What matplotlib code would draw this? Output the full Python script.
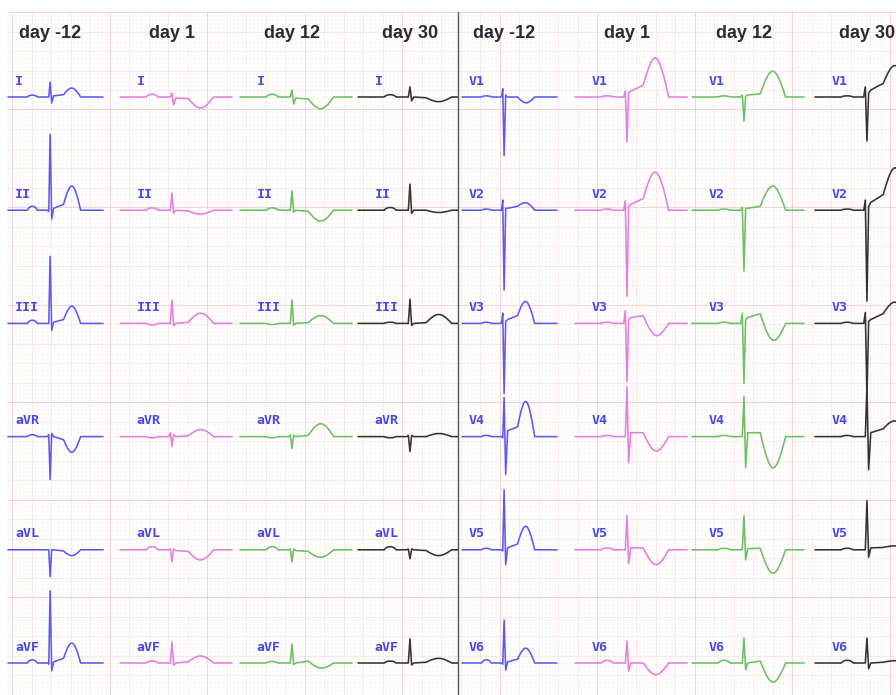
import matplotlib
matplotlib.use("Agg")
import matplotlib.pyplot as plt
from matplotlib.path import Path
from matplotlib.patches import PathPatch, Rectangle

# column titles and trace colours
days = ["day -12", "day 1", "day 12", "day 30"]
day_colors = ["#5b5bef", "#e27fdf", "#6cc063", "#333333"]

limb_leads = ["I", "II", "III", "aVR", "aVL", "aVF"]
chest_leads = ["V1", "V2", "V3", "V4", "V5", "V6"]

# landmark times in ms from trace start:
# p_on, p_off, q_on, q, r, s, j, st, t_off, end
times_pre = [200, 300, 405, 418, 432, 448, 468, 570, 745, 975]   # day -12
times_post = [270, 390, 500, 516, 533, 550, 572, 700, 960, 1150]  # day 1, 12, 30

# wave amplitudes in mV, one row per day (-12, 1, 12, 30): P, Q, R, S, J, ST, T
amp_I = [[0.05, 0.0, 0.38, -0.15, 0.03, 0.06, 0.23],
         [0.07, 0.0, 0.10, -0.20, -0.03, -0.04, -0.28],
         [0.07, 0.0, 0.18, -0.18, -0.03, -0.05, -0.30],
         [0.06, 0.0, 0.26, -0.10, 0.0, -0.02, -0.12]]
amp_II = [[0.10, -0.03, 1.95, -0.23, 0.05, 0.15, 0.62],
          [0.06, 0.0, 0.44, -0.08, 0.0, -0.02, -0.10],
          [0.06, 0.0, 0.50, -0.05, 0.0, -0.03, -0.28],
          [0.07, 0.0, 0.67, -0.08, 0.0, 0.0, -0.06]]
amp_III = [[0.08, 0.0, 1.72, -0.18, 0.03, 0.10, 0.44],
           [-0.04, 0.0, 0.60, -0.06, 0.0, 0.03, 0.26],
           [-0.03, 0.0, 0.60, -0.05, 0.0, 0.02, 0.20],
           [0.03, 0.0, 0.62, -0.05, 0.0, 0.02, 0.23]]
amp_aVR = [[0.05, 0.05, -1.10, 0.08, 0.0, -0.08, -0.40],
           [-0.03, 0.10, -0.25, 0.05, 0.0, 0.02, 0.18],
           [-0.03, 0.05, -0.30, 0.03, 0.0, 0.03, 0.33],
           [-0.03, 0.03, -0.38, 0.03, 0.0, 0.0, 0.08]]
amp_aVL = [[0.0, 0.0, -0.69, 0.0, 0.0, -0.03, -0.15],
           [0.08, 0.02, -0.31, 0.02, -0.02, -0.04, -0.26],
           [0.08, 0.02, -0.31, 0.02, -0.02, -0.04, -0.19],
           [0.08, 0.02, -0.23, 0.02, 0.0, -0.02, -0.15]]
amp_aVF = [[0.08, -0.03, 1.85, -0.20, 0.03, 0.12, 0.51],
           [0.05, 0.0, 0.54, -0.06, 0.0, 0.03, 0.18],
           [0.04, 0.0, 0.49, -0.04, 0.0, 0.05, -0.13],
           [0.05, 0.0, 0.62, -0.05, 0.0, 0.02, 0.12]]
amp_V1 = [[0.03, 0.21, -1.50, 0.05, 0.0, 0.0, -0.15],
          [0.03, 0.15, -1.15, 0.10, 0.15, 0.30, 1.00],
          [0.03, 0.05, -0.62, 0.02, 0.05, 0.08, 0.66],
          [0.03, 0.26, -1.13, 0.10, 0.18, 0.35, 0.80]]
amp_V2 = [[0.03, 0.26, -2.05, 0.05, 0.05, 0.10, 0.19],
          [0.03, 0.24, -2.20, 0.10, 0.15, 0.30, 0.97],
          [0.03, 0.08, -1.56, 0.05, 0.05, 0.10, 0.62],
          [0.03, 0.26, -2.33, 0.10, 0.20, 0.40, 1.08]]
amp_V3 = [[0.03, 0.26, -1.80, 0.05, 0.10, 0.20, 0.56],
          [0.03, 0.33, -1.50, 0.10, 0.15, 0.20, -0.31],
          [0.03, 0.26, -1.54, 0.10, 0.15, 0.25, -0.43],
          [0.03, 0.28, -1.90, 0.05, 0.10, 0.25, 0.54]]
amp_V4 = [[0.03, -0.03, 1.00, -0.97, 0.15, 0.25, 0.90],
          [0.03, 0.0, 1.28, -0.67, 0.10, 0.10, -0.37],
          [0.03, 0.0, 1.03, -0.80, 0.10, 0.10, -0.80],
          [0.03, 0.0, 1.30, -0.85, 0.10, 0.20, 0.40]]
amp_V5 = [[0.04, -0.03, 1.54, -0.38, 0.05, 0.15, 0.60],
          [0.05, 0.0, 0.88, -0.36, 0.05, 0.05, -0.38],
          [0.04, 0.0, 0.88, -0.26, 0.03, 0.04, -0.60],
          [0.04, 0.0, 1.26, -0.19, 0.05, 0.06, 0.10]]
amp_V6 = [[0.08, -0.03, 1.10, -0.18, 0.03, 0.10, 0.38],
          [0.07, 0.0, 0.56, -0.21, 0.0, 0.0, -0.30],
          [0.07, 0.0, 0.64, -0.17, 0.0, 0.05, -0.49],
          [0.07, 0.0, 0.64, -0.15, 0.0, 0.02, 0.06]]

limb_amps = [amp_I, amp_II, amp_III, amp_aVR, amp_aVL, amp_aVF]
chest_amps = [amp_V1, amp_V2, amp_V3, amp_V4, amp_V5, amp_V6]

# paper scale: pixels per ms and per mV
PX_MS = 0.0975
PX_MV = 39.0
W, H = 896, 695
W_MS = W / PX_MS
H_MV = H / PX_MV

# layout (pixels)
col_x_px = [8, 120, 240, 358, 462, 575, 692, 815]
row_y_px = [97 + 113.2 * k for k in range(6)]
divider_px = 458


def beat_path(x0, y0, tm, a):
    p_on, p_off, q_on, q, r, s, j, st, t_off, end = tm
    P, Q, R, S, J, ST, T = a
    verts = [(x0, y0), (x0 + p_on, y0)]
    codes = [Path.MOVETO, Path.LINETO]
    w = p_off - p_on
    hp = P * 4 / 3
    verts += [(x0 + p_on + 0.2 * w, y0 + hp), (x0 + p_off - 0.2 * w, y0 + hp), (x0 + p_off, y0)]
    codes += [Path.CURVE4] * 3
    verts += [(x0 + q_on, y0), (x0 + q, y0 + Q), (x0 + r, y0 + R), (x0 + s, y0 + S),
              (x0 + j, y0 + J), (x0 + st, y0 + ST)]
    codes += [Path.LINETO] * 6
    # T wave: peaked hump, apex at mid-span
    w = t_off - st
    c = (T - 0.125 * ST) / 0.75
    verts += [(x0 + st + 0.42 * w, y0 + c), (x0 + t_off - 0.42 * w, y0 + c), (x0 + t_off, y0)]
    codes += [Path.CURVE4] * 3
    verts.append((x0 + end, y0))
    codes.append(Path.LINETO)
    return Path(verts, codes)


fig = plt.figure(figsize=(W / 100, H / 100), dpi=100)
ax = fig.add_axes([0, 0, 1, 1])
ax.set_xlim(0, W_MS)
ax.set_ylim(-H_MV, 0)
ax.axis("off")

# ECG paper grid
gx0, gy0 = 8, 12
ox, oy = 12, 12
step = 19.5


def grid_style(k):
    if k % 25 == 0:
        return "#f5d0d0", 0.7
    if k % 5 == 0:
        return "#f9e0e0", 0.5
    return "#fdf0f0", 0.35


k = -10
while True:
    x = ox + k * step / 5
    if x > W:
        break
    if x >= gx0:
        col, lw = grid_style(k)
        ax.plot([x / PX_MS, x / PX_MS], [-gy0 / PX_MV, -H_MV], color=col, lw=lw, zorder=0)
    k += 1
k = 0
while True:
    y = oy + k * step / 5
    if y > H:
        break
    col, lw = grid_style(k)
    ax.plot([gx0 / PX_MS, W_MS], [-y / PX_MV, -y / PX_MV], color=col, lw=lw, zorder=0)
    k += 1

# divider between limb and chest leads
ax.plot([divider_px / PX_MS] * 2, [-gy0 / PX_MV, -H_MV], color="#555555", lw=1.0, zorder=3)

clip_left = Rectangle((0, -H_MV), divider_px / PX_MS - 5, H_MV, transform=ax.transData)

for half, (names, amps) in enumerate([(limb_leads, limb_amps), (chest_leads, chest_amps)]):
    for d in range(4):
        ci = half * 4 + d
        x0 = col_x_px[ci] / PX_MS
        tm = times_pre if d == 0 else times_post
        qrs = tm[4]
        ax.text(x0 + qrs, -33 / PX_MV, days[d], ha="center", va="center",
                fontsize=13, fontweight="bold", color="#2b2b38", family="Liberation Sans")
        for r, name in enumerate(names):
            y0 = -row_y_px[r] / PX_MV
            patch = PathPatch(beat_path(x0, y0, tm, amps[r][d]), fill=False,
                              edgecolor=day_colors[d], lw=1.15, zorder=4, capstyle="round",
                              joinstyle="round")
            ax.add_patch(patch)
            if half == 0:
                patch.set_clip_path(clip_left)
            ax.text(x0 + qrs - 360, y0 + 0.41, name, ha="left", va="center",
                    fontsize=9.5, fontweight="bold", color="#4646ea",
                    family="DejaVu Sans Mono", zorder=5)

fig.savefig("out.png", dpi=100)
